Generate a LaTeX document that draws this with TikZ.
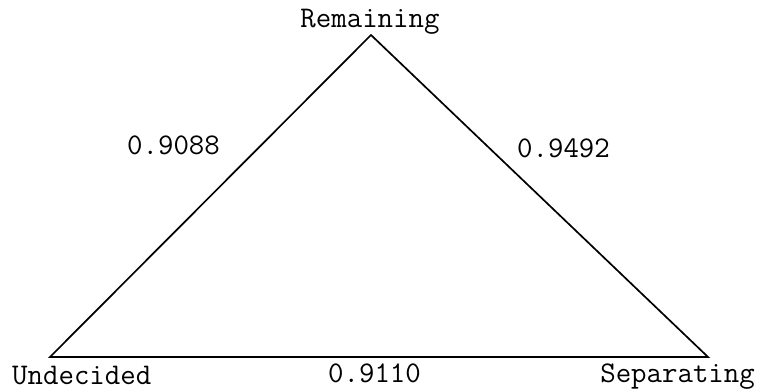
\documentclass[tikz,border=0pt]{standalone}
\begin{document}
\begin{tikzpicture}[x=1pt,y=-1pt,
  lbl/.style={font=\ttfamily\fontsize{30}{32}\selectfont, inner sep=0pt},
  edge/.style={line width=1.7pt, line join=miter}]
\useasboundingbox (0,0) rectangle (758,390);
\coordinate (R) at (371,35);
\coordinate (U) at (50,357);
\coordinate (S) at (708,357);
\draw[edge] (U) -- (R) -- (S) -- cycle;
\node[lbl, anchor=base] (tR) at (370,28) {Remaining};
\node[lbl, anchor=base west] (tU) at (12,384) {Undecided};
\node[lbl, anchor=base east] (tS) at (755,382) {Separating};
\node[lbl, anchor=base west] (l1) at (127,155) {0.9088};
\node[lbl, anchor=base west] (l2) at (517,158) {0.9492};
\node[lbl, anchor=base west] (l3) at (328,382) {0.9110};
\end{tikzpicture}
\end{document}
